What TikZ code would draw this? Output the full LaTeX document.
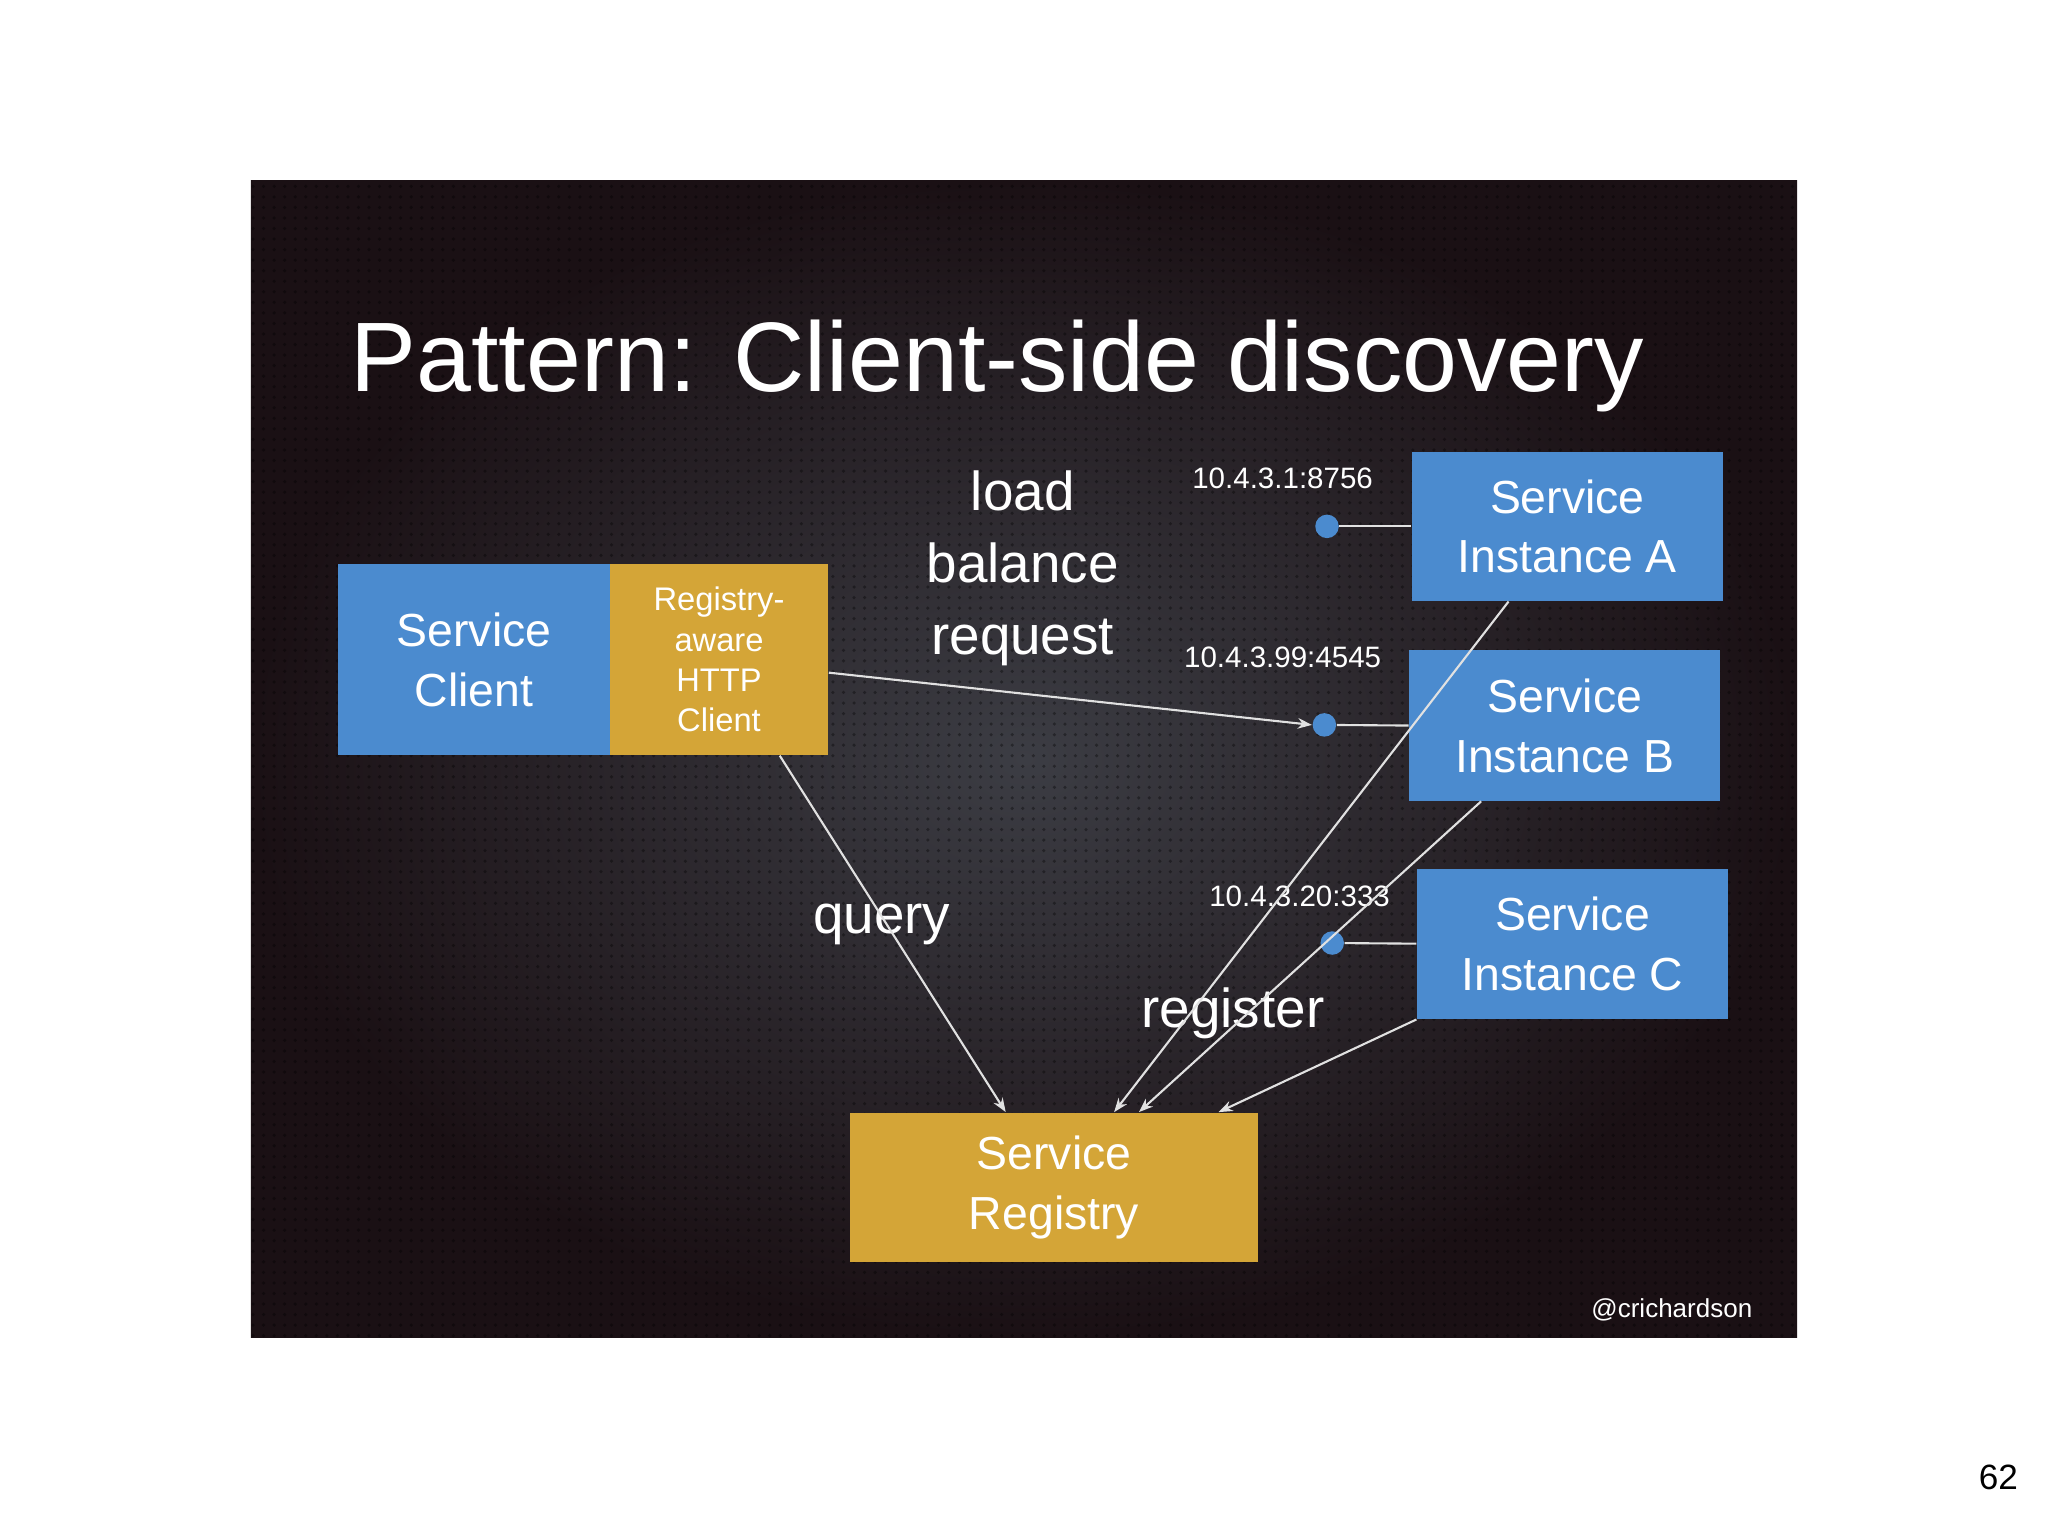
\documentclass[tikz,border=0pt]{standalone}
\usepackage{fontspec}
\setmainfont{Liberation Sans}
\usetikzlibrary{arrows.meta,calc,patterns}
\definecolor{boxblue}{RGB}{75,139,207}
\definecolor{boxgold}{RGB}{212,165,55}
\definecolor{bgin}{RGB}{60,61,68}
\definecolor{bgout}{RGB}{26,16,20}
\definecolor{linegray}{RGB}{225,225,225}
\def\U{0.013061cm}
\tikzset{
  bluebox/.style={draw=none, fill=boxblue, text=white, align=center, inner sep=0pt,
    font=\fontsize{13.2}{17}\selectfont},
  goldbox/.style={draw=none, fill=boxgold, text=white, align=center, inner sep=0pt,
    font=\fontsize{13.2}{17}\selectfont},
  ipdot/.style={circle, fill=boxblue, draw=none, minimum size={18*\U}, inner sep=0pt},
  iplabel/.style={text=white, font=\fontsize{8.4}{10}\selectfont, inner sep=0pt},
  biglabel/.style={text=white, font=\fontsize{15.6}{20.5}\selectfont, align=center, inner sep=0pt},
  conn/.style={draw=linegray, line width=0.6pt},
  arr/.style={conn, -{Stealth[length=4pt,width=3pt]}}
}
\begin{document}
\begin{tikzpicture}[x=\U, y=-\U]
\useasboundingbox (0,0) rectangle (1568,1176);
\fill[white] (0,0) rectangle (1568,1176);
% slide background
\shade[inner color=bgin, outer color=bgout] (192,138) rectangle (1376,1024);
\fill[pattern=dots, pattern color=black, opacity=0.35] (192,138) rectangle (1376,1024);
% title
\node[anchor=base west, text=white, inner sep=0pt, font=\fontsize{28.1}{34}\selectfont] (title) at (268,300) {Pattern: Client-side discovery};
% client boxes
\node[bluebox, minimum width={208*\U}, minimum height={146*\U}] (client) at (363,505) {Service\\Client};
\node[goldbox, minimum width={167*\U}, minimum height={146*\U}, font=\fontsize{9.3}{11.5}\selectfont] (http) at (550.5,505) {Registry-\\aware\\HTTP\\Client};
% instances
\node[bluebox, minimum width={238*\U}, minimum height={114*\U}] (instA) at (1200,403) {Service\\Instance A};
\node[bluebox, minimum width={238*\U}, minimum height={115*\U}] (instB) at (1198,555.5) {Service\\Instance B};
\node[bluebox, minimum width={238*\U}, minimum height={115*\U}] (instC) at (1204,722.5) {Service\\Instance C};
% registry
\node[goldbox, minimum width={312*\U}, minimum height={114*\U}] (reg) at (807,909) {Service\\Registry};
% dots
\node[ipdot] (dotA) at (1016,403) {};
\node[ipdot] (dotB) at (1014,555) {};
\node[ipdot] (dotC) at (1020,722) {};
\draw[conn] (dotA) -- (instA.west);
\draw[conn] (dotB) -- (instB.west);
\draw[conn] (dotC) -- (instC.west);
% ip labels
\node[iplabel] (ipA) at (982,366) {10.4.3.1:8756};
\node[iplabel] (ipB) at (982,503) {10.4.3.99:4545};
\node[iplabel] (ipC) at (995,686) {10.4.3.20:333};
% labels
\node[biglabel] (lb) at (783,435) {load\\balance\\request};
\node[biglabel] (query) at (675,708) {query};
\node[biglabel] (register) at (944,776) {register};
% connectors
\draw[arr] ($(http.east)+(0,10)$) -- (dotB.west);
\draw[arr] ($(http.south)+(46.5,0)$) -- ($(reg.north)+(-37,0)$);
\draw[arr] ($(instA.south)+(-45,0)$) -- ($(reg.north)+(46,0)$);
\draw[arr] ($(instB.south)+(-64,0)$) -- ($(reg.north)+(65,0)$);
\draw[arr] (instC.south west) -- ($(reg.north)+(126,0)$);
% footer
\node[text=white, inner sep=0pt, font=\fontsize{7.4}{9}\selectfont] (handle) at (1280,1003) {@crichardson};
\node[text=black, inner sep=0pt, font=\fontsize{10}{12}\selectfont] (pagenum) at (1530,1131) {62};
\end{tikzpicture}
\end{document}
